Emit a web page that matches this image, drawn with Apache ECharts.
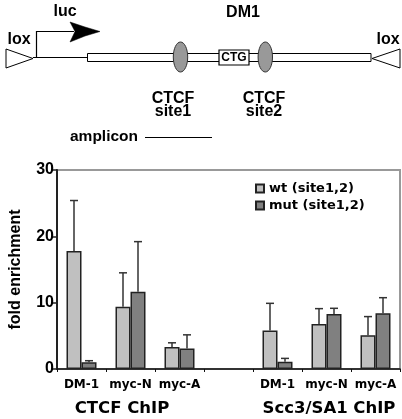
<!DOCTYPE html>
<html>
<head>
<meta charset="utf-8">
<script src="https://cdn.jsdelivr.net/npm/echarts@6/dist/echarts.min.js"></script>
<style>
html,body{margin:0;padding:0;background:#fff;}
#c{width:402px;height:419px;}
</style>
</head>
<body>
<div id="c"></div>
<script>
const categories = ['DM-1','myc-N','myc-A','','DM-1','myc-N','myc-A'];
const groupLabels = ['CTCF ChIP','Scc3/SA1 ChIP'];
const seriesNames = ['wt (site1,2)','mut (site1,2)'];
const wtValues  = [17.8, 9.4, 3.3, null, 5.8, 6.8, 5.1];
const mutValues = [1.0, 11.65, 3.1, null, 1.1, 8.3, 8.4];
const wtErrTop  = [25.4, 14.5, 3.95, null, 9.9, 9.1, 7.9];
const mutErrTop = [1.25, 19.2, 5.15, null, 1.6, 9.15, 10.75];
const yTicks = [0, 10, 20, 30];

const chart = echarts.init(document.getElementById('c'), null, {renderer:'canvas'});
const BAR_W = 15;
const SANS = "'Liberation Sans', Arial, sans-serif";
const VERD = "'DejaVu Sans', Verdana, sans-serif";

function errSeries(vals, tops, off) {
  const data = vals.map((v,i) => v == null ? [i, null, null] : [i, v, tops[i]]);
  return {
    type: 'custom',
    silent: true,
    z: 5,
    data: data,
    renderItem: function(params, api) {
      const v = api.value(1), t = api.value(2);
      if (v == null || isNaN(v) || t == null || isNaN(t)) return null;
      const p0 = api.coord([api.value(0), v]);
      const p1 = api.coord([api.value(0), t]);
      const x = p0[0] + off;
      return {
        type: 'group',
        children: [
          {type:'line', shape:{x1:x, y1:p0[1], x2:x, y2:p1[1]}, style:{stroke:'#333', lineWidth:1.5}},
          {type:'line', shape:{x1:x-4, y1:p1[1], x2:x+4, y2:p1[1]}, style:{stroke:'#333', lineWidth:1.5}}
        ]
      };
    }
  };
}

const tStyle = (txt, x, y, size, font, align) => ({
  type:'text', x: x, y: y,
  style:{text: txt, fill:'#000', font: 'bold ' + size + 'px ' + font, textAlign: align || 'center', textVerticalAlign:'middle'}
});

const graphics = [
  // schematic
  {type:'polygon', shape:{points:[[6,49],[6,68],[33,58.5]]}, style:{fill:'#fff', stroke:'#000', lineWidth:1}},
  {type:'polygon', shape:{points:[[400,49],[400,68],[372,58.5]]}, style:{fill:'#fff', stroke:'#000', lineWidth:1}},
  {type:'polyline', shape:{points:[[33,57.5],[87,57.5]]}, style:{stroke:'#000', lineWidth:1.2, fill:null}},
  {type:'polyline', shape:{points:[[36.5,57.5],[36.5,31.5],[74,31.5]]}, style:{stroke:'#000', lineWidth:1.2, fill:null}},
  {type:'polygon', shape:{points:[[70,22],[85,27],[100,31.5],[85,36],[70,42],[75,31.5]]}, style:{fill:'#000', stroke:'#000', lineWidth:0.5}},
  {type:'rect', shape:{x:87.5, y:53.5, width:283.5, height:8}, style:{fill:'#fff', stroke:'#000', lineWidth:1}},
  {type:'ellipse', shape:{cx:180.5, cy:57, rx:7.2, ry:15}, style:{fill:'#999', stroke:'#333', lineWidth:1}},
  {type:'ellipse', shape:{cx:265.3, cy:57, rx:7.2, ry:15}, style:{fill:'#999', stroke:'#333', lineWidth:1}},
  {type:'rect', shape:{x:219, y:50, width:30, height:15}, style:{fill:'#fff', stroke:'#000', lineWidth:1.2}},
  tStyle('CTG', 234, 58, 12, SANS),
  tStyle('luc', 65, 12, 16, SANS),
  tStyle('DM1', 243, 13, 16, SANS),
  tStyle('lox', 19, 40, 16, SANS),
  tStyle('lox', 388, 40, 16, SANS),
  tStyle('CTCF', 173, 99, 16, SANS),
  tStyle('site1', 173, 112, 16, SANS),
  tStyle('CTCF', 264, 99, 16, SANS),
  tStyle('site2', 264, 112, 16, SANS),
  tStyle('amplicon', 104, 137, 15.5, SANS),
  {type:'polyline', shape:{points:[[145,137.5],[212,137.5]]}, style:{stroke:'#000', lineWidth:1, fill:null}},
  // group labels
  tStyle(groupLabels[0], 122, 409, 16.5, VERD),
  tStyle(groupLabels[1], 329, 409, 16.5, VERD)
];

chart.setOption({
  animation: false,
  backgroundColor: '#fff',
  grid: {left:47, right:2, top:170, bottom:50, show:true, borderColor:'#999', borderWidth:2, backgroundColor:'transparent'},
  legend: {
    orient:'vertical', left:250, top:177, itemWidth:8, itemHeight:8, itemGap:4,
    icon:'rect',
    textStyle:{fontFamily:VERD, fontWeight:'bold', fontSize:13, color:'#000'},
    data: seriesNames
  },
  xAxis: {
    type:'category', data: categories,
    axisLine:{lineStyle:{color:'#111', width:1.5}},
    axisTick:{show:true, length:3, lineStyle:{color:'#111'}},
    axisLabel:{fontFamily:VERD, fontWeight:'bold', fontSize:12, color:'#000', margin:10, interval:0}
  },
  yAxis: {
    type:'value', min:0, max:30, interval:10,
    name:'fold enrichment', nameLocation:'middle', nameGap:33,
    nameTextStyle:{fontFamily:SANS, fontWeight:'bold', fontSize:16, color:'#000'},
    axisLine:{show:true, lineStyle:{color:'#222', width:2}},
    axisTick:{show:true, length:4, lineStyle:{color:'#222', width:1.5}},
    axisLabel:{fontFamily:SANS, fontWeight:'bold', fontSize:16, color:'#000', margin:3},
    splitLine:{show:false}
  },
  series: [
    {name:seriesNames[0], type:'bar', data:wtValues, barWidth:BAR_W, barGap:'0%',
     itemStyle:{color:'#c0c0c0', borderColor:'#222', borderWidth:1.5}},
    {name:seriesNames[1], type:'bar', data:mutValues, barWidth:BAR_W, barGap:'0%',
     itemStyle:{color:'#808080', borderColor:'#222', borderWidth:1.5}},
    errSeries(wtValues, wtErrTop, -BAR_W/2),
    errSeries(mutValues, mutErrTop, BAR_W/2)
  ],
  graphic: graphics
});
</script>
</body>
</html>
